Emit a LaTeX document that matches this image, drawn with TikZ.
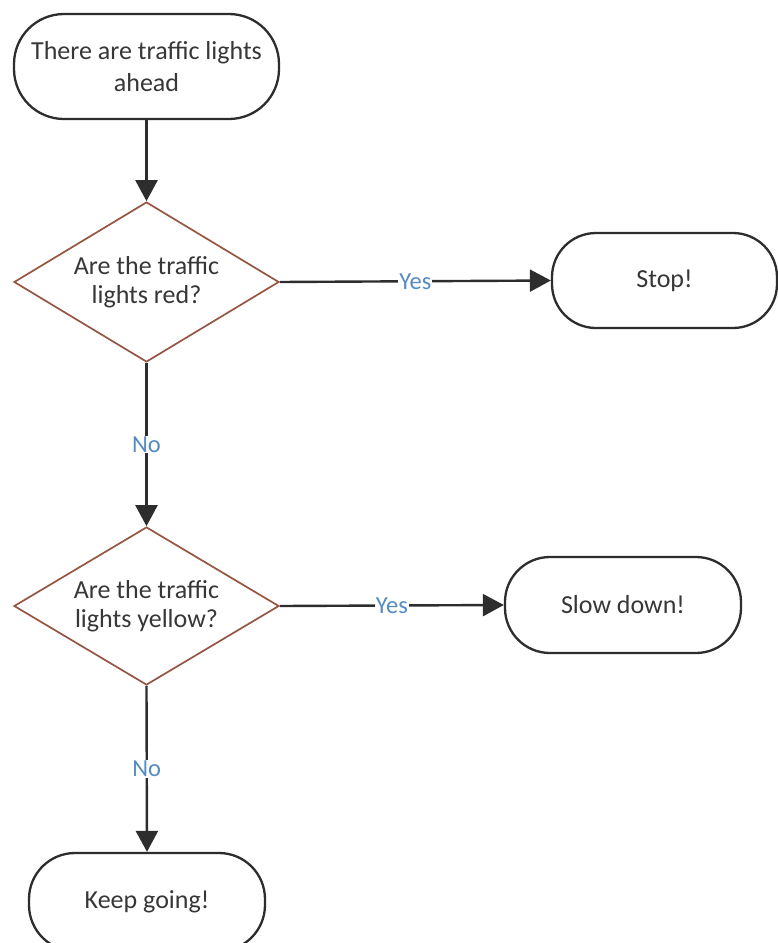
\documentclass[tikz,border=0pt]{standalone}
\usepackage{fontspec}
\setmainfont{Carlito}
\usetikzlibrary{shapes.geometric,arrows.meta}
\definecolor{txt}{RGB}{55,55,55}
\definecolor{edge}{RGB}{45,45,45}
\definecolor{diam}{RGB}{150,85,65}
\definecolor{lbl}{RGB}{85,140,195}
\tikzset{
  term/.style={draw=edge, line width=2.3pt, rectangle, fill=white, text=txt,
    font=\fontsize{26}{31.5}\selectfont, align=center, inner sep=0pt},
  decision/.style={draw=diam, line width=1.7pt, diamond, aspect=1.66, fill=white, text=txt,
    font=\fontsize{26}{29}\selectfont, align=center, inner sep=0pt,
    minimum width=265pt, minimum height=160pt},
  conn/.style={draw=edge, line width=2.4pt, -{Triangle[width=22pt,length=21pt]}},
  lab/.style={text=lbl, fill=white, inner sep=1pt, font=\fontsize{24.5}{28}\selectfont}
}
\begin{document}
\begin{tikzpicture}[x=1pt,y=-1pt]
\clip (0,0) rectangle (778,943);
\fill[white] (0,0) rectangle (778,943);
\node[term, minimum width=265pt, minimum height=105pt, rounded corners=50pt] (start) at (146.5,66.5) {There are traffic lights\\ahead};
\node[decision] (d1) at (146.5,282) {Are the traffic\\lights red?};
\node[term, minimum width=225pt, minimum height=95pt, rounded corners=44pt] (stop) at (664.5,280.5) {Stop!};
\node[decision, minimum height=158pt] (d2) at (146.5,606) {Are the traffic\\lights yellow?};
\node[term, minimum width=236pt, minimum height=96pt, rounded corners=45pt] (slow) at (623,605) {Slow down!};
\node[term, minimum width=236pt, minimum height=98pt, rounded corners=46pt] (keep) at (147,902) {Keep going!};
\draw[conn] (start.south) -- (d1.north);
\draw[conn] (d1.east) -- node[lab] {Yes} (stop.west);
\draw[conn] (d1.south) -- node[lab] {No} (d2.north);
\draw[conn] (d2.east) -- node[lab] {Yes} (slow.west);
\draw[conn] (d2.south) -- node[lab] {No} (keep.north);
\end{tikzpicture}
\end{document}
